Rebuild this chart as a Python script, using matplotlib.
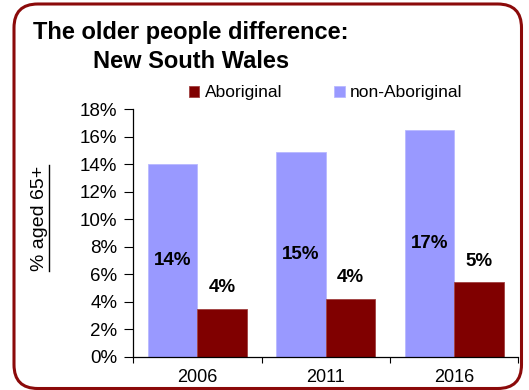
import matplotlib
matplotlib.use("Agg")
import matplotlib.pyplot as plt
import numpy as np
from matplotlib.patches import FancyBboxPatch
from matplotlib.lines import Line2D

plt.rcParams['font.family'] = ['Liberation Sans', 'DejaVu Sans']

years = ["2006", "2011", "2016"]
non_aboriginal = [14.0, 14.9, 16.52]
aboriginal = [3.5, 4.2, 5.4]
yticks = [0, 2, 4, 6, 8, 10, 12, 14, 16, 18]

NON_COL = "#9999FF"
ABO_COL = "#800000"
FRAME_COL = "#8B0A0A"

W, H = 529, 390
fig = plt.figure(figsize=(W / 100, H / 100), dpi=100)

# rounded frame around the whole chart
frame = FancyBboxPatch((14 / W, 1.5 / H), (521.5 - 14) / W, (388 - 3.5) / H,
                       boxstyle="round,pad=0,rounding_size=0.045",
                       transform=fig.transFigure, fill=False,
                       edgecolor=FRAME_COL, linewidth=2.2, zorder=0,
                       mutation_aspect=W / H)
fig.patches.append(frame)

ax = fig.add_axes([133.3 / W, (H - 356.7) / H, (518.3 - 133.3) / W,
                   (356.7 - 109.3) / H])

x = np.arange(len(years))
w = 0.385
b1 = ax.bar(x - w / 2, non_aboriginal, w, color=NON_COL, edgecolor="#B8B8FF",
            linewidth=0.6, label="non-Aboriginal", zorder=2)
b2 = ax.bar(x + w / 2, aboriginal, w, color=ABO_COL, edgecolor="#A04040",
            linewidth=0.6, label="Aboriginal", zorder=2)

for xi, v in zip(x, non_aboriginal):
    ax.text(xi - w / 2, v / 2, f"{v:.0f}%", ha="center", va="center",
            fontsize=13.5, fontweight="bold")
for xi, v in zip(x, aboriginal):
    ax.annotate(f"{v:.0f}%", (xi + w / 2, v), xytext=(0, 21),
                textcoords="offset pixels", ha="center", va="center",
                fontsize=13.5, fontweight="bold")

ax.set_xlim(-0.5, len(years) - 0.5)
ax.set_ylim(0, 18)
ax.set_yticks(yticks)
ax.set_yticklabels([f"{t}%" for t in yticks], fontsize=13.5)
ax.set_xticks(x)
ax.set_xticklabels(years, fontsize=13)
ax.tick_params(axis="x", length=0, pad=9)
ax.tick_params(axis="y", length=6.5, direction="out", width=0.8, pad=5)
# category separators on the x axis
ax.set_xticks(np.arange(len(years) + 1) - 0.5, minor=True)
ax.tick_params(axis="x", which="minor", length=4, width=0.8, direction="out")
for s in ("top", "right"):
    ax.spines[s].set_visible(False)
for s in ("left", "bottom"):
    ax.spines[s].set_linewidth(0.9)

# legend
handles = [b2, b1]
leg = fig.legend(handles, ["Aboriginal", "non-Aboriginal"], loc="center left",
                 bbox_to_anchor=(189 / W, 1 - 93 / H), ncol=2, frameon=False,
                 fontsize=12.5, handlelength=0.6, handleheight=0.6,
                 handletextpad=0.3, columnspacing=3.0, borderaxespad=0,
                 borderpad=0)

# title
fig.text(33 / W, 1 - 33 / H, "The older people difference:", fontsize=17,
         fontweight="bold", ha="left", va="center")
fig.text(93 / W, 1 - 61 / H, "New South Wales", fontsize=17,
         fontweight="bold", ha="left", va="center")

# y-axis label, underlined
ylab = fig.text(39 / W, 1 - 218 / H, "% aged 65+", fontsize=14,
                rotation=90, ha="center", va="center")
fig.canvas.draw()
bb = ylab.get_window_extent().transformed(fig.transFigure.inverted())
ux = bb.x1 + 1 / W
fig.add_artist(Line2D([ux, ux], [bb.y0, bb.y1], transform=fig.transFigure,
                      color="black", linewidth=1.0))

fig.savefig("out.png", dpi=100)
